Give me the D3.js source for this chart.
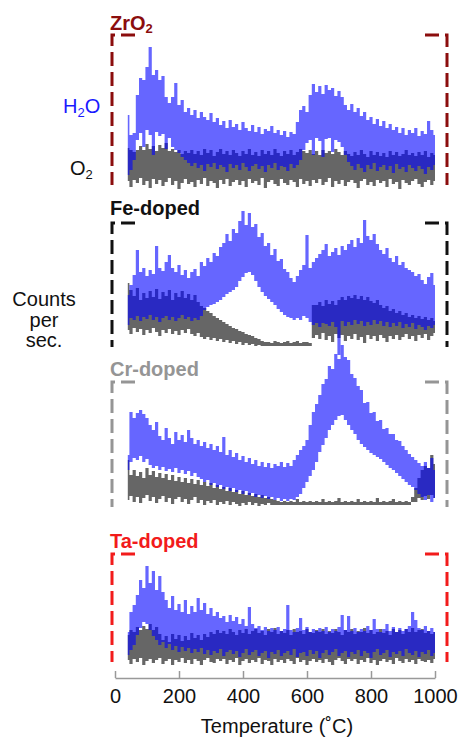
<!DOCTYPE html>
<html>
<head>
<meta charset="utf-8">
<script src="https://cdn.jsdelivr.net/npm/d3@7"></script>
<style>
  body { margin: 0; background: #fff; }
  svg { display: block; font-family: "Liberation Sans", Arial, sans-serif; }
</style>
</head>
<body>
<div id="chart"></div>
<script>
// temperature grid (°C)
const temps = [
  40, 50, 60, 70, 80, 90, 100, 110, 120, 130,
  140, 150, 160, 170, 180, 190, 200, 210, 220, 230,
  240, 250, 260, 270, 280, 290, 300, 310, 320, 330,
  340, 350, 360, 370, 380, 390, 400, 410, 420, 430,
  440, 450, 460, 470, 480, 490, 500, 510, 520, 530,
  540, 550, 560, 570, 580, 590, 600, 610, 620, 630,
  640, 650, 660, 670, 680, 690, 700, 710, 720, 730,
  740, 750, 760, 770, 780, 790, 800, 810, 820, 830,
  840, 850, 860, 870, 880, 890, 900, 910, 920, 930,
  940, 950, 960, 970, 980, 990, 1000
]
const tickTemps = [0, 200, 400, 600, 800, 1000]

// signal envelopes (counts per sec., arbitrary units above each panel baseline)
const zro2H2oHi = [
  70, 50, 52, 90, 107, 105, 118, 138, 110, 115,
  105, 109, 88, 82, 88, 102, 80, 85, 73, 77,
  70, 75, 67, 73, 68, 65, 72, 63, 67, 60,
  64, 57, 65, 58, 61, 55, 63, 57, 54, 60,
  53, 58, 51, 56, 54, 59, 52, 55, 50, 54,
  48, 53, 51, 63, 75, 79, 73, 90, 101, 93,
  99, 91, 100, 95, 97, 89, 94, 88, 80, 75,
  81, 73, 77, 69, 73, 65, 68, 61, 66, 59,
  64, 57, 61, 55, 58, 52, 57, 50, 55, 52,
  57, 49, 54, 51, 64, 55, 50
]
const zro2H2oLo = [
  10, 15, 25, 45, 52, 38, 55, 50, 30, 53,
  49, 51, 36, 47, 38, 35, 32, 28, 25, 22,
  19, 22, 17, 20, 14, 21, 18, 22, 16, 20,
  18, 13, 21, 17, 20, 15, 22, 18, 14, 19,
  21, 16, 19, 13, 20, 17, 22, 15, 19, 18,
  14, 21, 17, 20, 25, 35, 42, 45, 30, 47,
  44, 28, 46, 47, 33, 45, 43, 38, 30, 23,
  19, 15, 21, 17, 13, 20, 16, 22, 14, 18,
  20, 15, 19, 12, 21, 16, 18, 13, 20, 17,
  14, 19, 16, 11, 18, 15, 20
]
const zro2O2Hi = [
  37, 35, 33, 35, 39, 35, 41, 36, 39, 34,
  40, 37, 42, 34, 36, 33, 35, 31, 34, 32,
  35, 31, 34, 30, 36, 32, 35, 29, 33, 36,
  31, 34, 30, 35, 32, 29, 34, 31, 36, 30,
  33, 29, 35, 31, 34, 30, 36, 32, 29, 34,
  31, 35, 30, 33, 36, 34, 32, 35, 31, 34,
  30, 35, 32, 34, 31, 36, 33, 30, 34, 31,
  29, 33, 30, 35, 31, 28, 34, 30, 33, 29,
  32, 28, 34, 30, 33, 29, 31, 35, 30, 32,
  29, 33, 30, 34, 28, 32, 30
]
const zro2O2Lo = [
  4, -2, 5, 2, 7, 0, 4, -3, 6, 1,
  5, -1, 3, 7, 0, 4, -4, 2, 6, 1,
  3, -2, 5, 1, 7, -1, 4, 2, -3, 5,
  1, 6, -1, 3, 5, 0, 4, -2, 6, 2,
  4, 0, 7, -3, 3, 5, 1, -1, 6, 2,
  0, 5, 3, -2, 6, 1, 4, -1, 5, 2,
  6, 0, 3, 7, -2, 4, 1, 5, -1, 3,
  5, 2, -3, 4, 6, 0, 3, -1, 5, 2,
  4, -2, 6, 1, 3, -4, 5, 2, 0, 4,
  6, 1, -2, 3, 5, 0, 4
]

const feH2oHi = [
  52, 62, 72, 97, 75, 79, 71, 77, 73, 101,
  79, 76, 85, 92, 79, 75, 82, 72, 77, 69,
  75, 78, 71, 85, 81, 89, 85, 94, 91, 100,
  104, 113, 106, 118, 114, 126, 136, 122, 134, 120,
  123, 110, 114, 101, 104, 92, 98, 86, 88, 78,
  75, 69, 65, 71, 77, 82, 112, 79, 85, 89,
  93, 97, 103, 91, 95, 99, 92, 101, 97, 103,
  107, 100, 109, 104, 127, 111, 107, 113, 103, 97,
  93, 99, 89, 85, 91, 82, 85, 79, 77, 75,
  71, 73, 67, 63, 70, 74, 62
]
const feH2oLo = [
  22, 29, 27, 31, 26, 30, 28, 32, 27, 30,
  25, 29, 31, 27, 30, 26, 29, 32, 28, 30,
  26, 29, 27, 31, 37, 40, 42, 43, 45, 47,
  50, 53, 55, 57, 60, 66, 70, 74, 75, 72,
  66, 60, 55, 51, 48, 45, 42, 38, 35, 32,
  30, 29, 27, 29, 27, 31, 29, 25, 22, 24,
  20, 24, 23, 21, 25, 20, -8, 26, 21, 25,
  22, 27, 23, 26, 21, 25, 22, 27, 23, 26,
  21, 25, 20, 24, 21, 25, 19, 23, 20, 24,
  18, 22, 20, 17, 21, 19, 22
]
const feO2Hi = [
  64, 57, 51, 59, 47, 54, 49, 56, 50, 58,
  48, 55, 51, 57, 47, 54, 50, 56, 49, 53,
  47, 52, 45, 41, 39, 36, 34, 31, 29, 27,
  25, 23, 21, 19, 18, 16, 15, 13, 12, 11,
  9, 8, 6, 5, 5, 4, 6, 5, 4, 5,
  6, 4, 5, 6, 4, 5, 5, 4, 42, 42,
  45, 41, 47, 43, 46, 42, 47, 50, 47, 51,
  49, 52, 48, 51, 47, 50, 46, 44, 47, 42,
  39, 41, 36, 38, 34, 36, 32, 34, 30, 32,
  29, 31, 28, 30, 27, 29, 26
]
const feO2Lo = [
  17, 13, 19, 15, 18, 12, 17, 14, 19, 15,
  11, 17, 14, 18, 13, 16, 12, 17, 14, 18,
  13, 11, 14, 10, 8, 10, 7, 9, 6, 8,
  5, 7, 4, 6, 3, 5, 2, 4, 2, 3,
  1, 2, 1, 1, 1, 1, 1, 1, 1, 1,
  1, 1, 1, 1, 1, 1, 1, 1, 9, 12,
  8, 14, 7, 11, 5, 13, 9, 12, 6, 11,
  8, 13, 7, 10, 4, 12, 8, 11, 6, 12,
  9, 5, 11, 8, 12, 7, 10, 13, 8, 11,
  6, 12, 9, 13, 7, 11, 14
]

const crH2oHi = [
  52, 95, 89, 94, 97, 93, 89, 82, 77, 85,
  71, 67, 79, 69, 63, 75, 67, 72, 65, 77,
  69, 63, 67, 61, 65, 59, 63, 57, 61, 55,
  70, 52, 57, 50, 54, 47, 51, 45, 49, 43,
  47, 41, 45, 40, 44, 39, 43, 41, 45, 40,
  44, 41, 47, 52, 57, 61, 67, 82, 95, 103,
  112, 123, 128, 141, 138, 153, 148, 162, 150, 147,
  133, 129, 121, 117, 104, 105, 94, 95, 86, 87,
  78, 79, 73, 73, 67, 66, 61, 57, 53, 50,
  47, 44, 41, 45, 39, 49, 37
]
const crH2oLo = [
  37, 45, 49, 47, 51, 45, 48, 42, 39, 41,
  37, 40, 36, 38, 35, 39, 34, 37, 33, 36,
  31, 34, 30, 28, 25, 27, 22, 24, 20, 22,
  18, 20, 16, 19, 15, 17, 13, 16, 12, 14,
  10, 12, 9, 11, 8, 10, 7, 9, 6, 8,
  6, 8, 7, 10, 13, 19, 25, 31, 37, 45,
  55, 62, 69, 77, 82, 87, 91, 92, 87, 82,
  77, 73, 67, 63, 60, 57, 54, 52, 50, 48,
  45, 42, 39, 37, 34, 31, 28, 25, 22, 20,
  17, 13, 10, 7, 12, 5, 9
]
const crO2Hi = [
  47, 32, 37, 31, 35, 29, 39, 32, 36, 30,
  34, 29, 33, 27, 32, 26, 30, 25, 29, 24,
  28, 23, 27, 22, 25, 21, 24, 19, 22, 18,
  20, 16, 19, 15, 17, 13, 16, 12, 14, 11,
  13, 10, 12, 9, 10, 8, 7, 6, 5, 6,
  5, 6, 5, 8, 5, 6, 5, 6, 5, 6,
  5, 8, 5, 6, 5, 6, 9, 5, 6, 5,
  6, 5, 8, 5, 6, 5, 6, 5, 9, 5,
  6, 5, 6, 8, 5, 6, 5, 6, 5, 10,
  19, 29, 37, 41, 39, 52, 43
]
const crO2Lo = [
  7, 11, 5, 10, 4, 9, 12, 6, 10, 4,
  8, 11, 5, 9, 3, 8, 10, 5, 8, 3,
  7, 10, 4, 7, 2, 6, 4, 7, 2, 5,
  3, 6, 2, 5, 3, 1, 4, 2, 5, 2,
  4, 1, 3, 2, 4, 2, 2, 2, 2, 2,
  2, 2, 2, 2, 2, 2, 2, 2, 2, 2,
  2, 2, 2, 2, 2, 2, 2, 2, 2, 2,
  2, 2, 2, 2, 2, 2, 2, 2, 2, 2,
  2, 2, 2, 2, 2, 2, 2, 2, 2, 5,
  5, 9, 7, 11, 8, 12, 9
]

const taH2oHi = [
  30, 50, 57, 67, 82, 74, 96, 79, 91, 72,
  86, 70, 62, 54, 66, 52, 58, 50, 62, 48,
  56, 50, 64, 52, 59, 48, 54, 46, 50, 44,
  46, 40, 47, 41, 45, 38, 43, 36, 55, 38,
  34, 36, 32, 35, 31, 34, 32, 35, 31, 33,
  57, 32, 30, 34, 44, 32, 35, 30, 33, 31,
  34, 31, 35, 30, 33, 31, 35, 47, 32, 46,
  31, 34, 30, 33, 31, 36, 32, 43, 33, 30,
  33, 38, 31, 35, 30, 34, 31, 33, 36, 50,
  42, 34, 32, 36, 31, 34, 30
]
const taH2oLo = [
  7, 12, 17, 27, 34, 40, 38, 32, 26, 22,
  17, 20, 14, 18, 12, 16, 10, 15, 11, 14,
  9, 13, 10, 14, 8, 12, 7, 11, 9, 13,
  6, 10, 12, 8, 11, 5, 9, 13, 7, 10,
  12, 6, 9, 11, 4, 10, 8, 12, 6, 9,
  11, 7, 13, 5, 9, 10, 6, 12, 8, 11,
  4, 9, 12, 7, 10, 13, 6, 9, 11, 5,
  10, 8, 12, 6, 11, 9, 4, 10, 13, 7,
  9, 12, 5, 10, 8, 11, 6, 13, 9, 7,
  11, 5, 10, 8, 12, 6, 9
]
const taO2Hi = [
  27, 32, 30, 35, 32, 36, 33, 38, 32, 35,
  28, 22, 26, 20, 28, 23, 27, 21, 26, 22,
  29, 24, 27, 22, 28, 25, 30, 28, 32, 29,
  31, 28, 33, 30, 27, 32, 29, 33, 28, 31,
  33, 29, 31, 27, 33, 30, 34, 28, 31, 29,
  32, 27, 33, 30, 31, 28, 33, 30, 29, 32,
  30, 33, 28, 31, 29, 33, 30, 27, 32, 30,
  33, 28, 31, 30, 34, 29, 32, 28, 30, 33,
  29, 31, 27, 33, 30, 32, 28, 33, 30, 34,
  30, 32, 33, 29, 31, 28, 30
]
const taO2Lo = [
  2, -2, 3, 0, 4, -3, 1, 3, -1, 2,
  4, -2, 1, 3, -3, 2, 0, 4, -1, 2,
  -2, 3, 1, -3, 2, 4, 0, -1, 3, 1,
  3, -2, 2, 0, 4, -3, 1, 3, -1, 2,
  0, 4, -2, 2, 1, -3, 3, 0, 2, -1,
  3, 1, -2, 4, 0, 2, -3, 1, 3, 0,
  2, -1, 3, 0, -3, 2, 4, 1, -2, 3,
  1, 3, -2, 2, 0, 4, -1, 2, -3, 1,
  3, 0, 2, -2, 4, 1, -1, 3, 0, 2,
  -2, 3, 1, 0, 2, -1, 3
]

// panel layout
const panels = [
  { name: 'ZrO', sub: '2', color: '#8b0d0d', top: 35, bottom: 185, titleY: 30,
    h2oHi: zro2H2oHi, h2oLo: zro2H2oLo, o2Hi: zro2O2Hi, o2Lo: zro2O2Lo },
  { name: 'Fe-doped', color: '#111', top: 223, bottom: 347, titleY: 215,
    h2oHi: feH2oHi, h2oLo: feH2oLo, o2Hi: feO2Hi, o2Lo: feO2Lo },
  { name: 'Cr-doped', color: '#959595', top: 382, bottom: 507, titleY: 376,
    h2oHi: crH2oHi, h2oLo: crH2oLo, o2Hi: crO2Hi, o2Lo: crO2Lo },
  { name: 'Ta-doped', color: '#f21b1b', top: 554, bottom: 662, titleY: 548,
    h2oHi: taH2oHi, h2oLo: taH2oLo, o2Hi: taO2Hi, o2Lo: taO2Lo }
]

const width = 460
const height = 737

const svg = d3
  .select('#chart')
  .append('svg')
  .attr('width', width)
  .attr('height', height)

const x = d3.scaleLinear().domain([0, 1000]).range([115, 435])

panels.forEach(function (p) {
  const y = d3.scaleLinear().domain([0, p.bottom - p.top]).range([p.bottom, p.top])

  const band = function (lo, hi) {
    return d3
      .area()
      .curve(d3.curveStep)
      .x((d, i) => x(temps[i]))
      .y0((d, i) => y(lo[i]))
      .y1((d, i) => y(hi[i]))
  }

  const g = svg.append('g')

  // O2 first, H2O translucent on top
  g.append('path')
    .datum(temps)
    .attr('d', band(p.o2Lo, p.o2Hi))
    .attr('fill', '#666')

  g.append('path')
    .datum(temps)
    .attr('d', band(p.h2oLo, p.h2oHi))
    .attr('fill', '#0000ff')
    .attr('fill-opacity', 0.6)

  // dashed bracket frame
  const frame = [
    [[135, p.top], [112, p.top], [112, p.bottom]],
    [[425, p.top], [447, p.top], [447, p.bottom]]
  ]
  g.selectAll('.frame')
    .data(frame)
    .enter()
    .append('path')
    .attr('d', d3.line())
    .attr('fill', 'none')
    .attr('stroke', p.color)
    .attr('stroke-width', 3)
    .attr('stroke-dasharray', '14,6')

  const title = g.append('text')
    .attr('x', 110)
    .attr('y', p.titleY)
    .attr('fill', p.color)
    .attr('font-size', 20)
    .attr('font-weight', 'bold')
    .text(p.name)
  if (p.sub) {
    title.append('tspan').attr('font-size', 13).attr('dy', 3).text(p.sub)
  }
})

// species labels
const h2oLabel = svg.append('text')
  .attr('x', 63).attr('y', 113)
  .attr('fill', '#1a1aff')
  .attr('font-size', 20)
  .text('H')
h2oLabel.append('tspan').attr('font-size', 13).attr('dy', 4).text('2')
h2oLabel.append('tspan').attr('dy', -4).text('O')

const o2Label = svg.append('text')
  .attr('x', 70).attr('y', 175)
  .attr('fill', '#111')
  .attr('font-size', 20)
  .text('O')
o2Label.append('tspan').attr('font-size', 13).attr('dy', 4).text('2')

// y label
svg.append('text')
  .attr('text-anchor', 'middle')
  .attr('font-size', 20)
  .attr('fill', '#111')
  .selectAll('tspan')
  .data(['Counts', 'per', 'sec.'])
  .enter()
  .append('tspan')
  .attr('x', 44)
  .attr('y', (d, i) => 306 + i * 20.5)
  .text((d) => d)

// temperature axis
const axis = svg.append('g')
  .attr('transform', 'translate(0,678)')
  .call(
    d3.axisBottom(x)
      .tickValues(tickTemps)
      .tickFormat(d3.format('d'))
      .tickSizeInner(-7)
      .tickSizeOuter(0)
      .tickPadding(11)
  )
axis.select('.domain').attr('stroke', '#999').attr('stroke-width', 1.5)
axis.selectAll('.tick line').attr('stroke', '#999').attr('stroke-width', 1.5)
axis.selectAll('.tick text')
  .attr('font-size', 20)
  .attr('font-family', '"Liberation Sans", Arial, sans-serif')
  .attr('fill', '#111')

svg.append('text')
  .attr('x', 277)
  .attr('y', 733)
  .attr('text-anchor', 'middle')
  .attr('font-size', 20)
  .attr('fill', '#111')
  .text('Temperature (˚C)')
</script>
</body>
</html>
